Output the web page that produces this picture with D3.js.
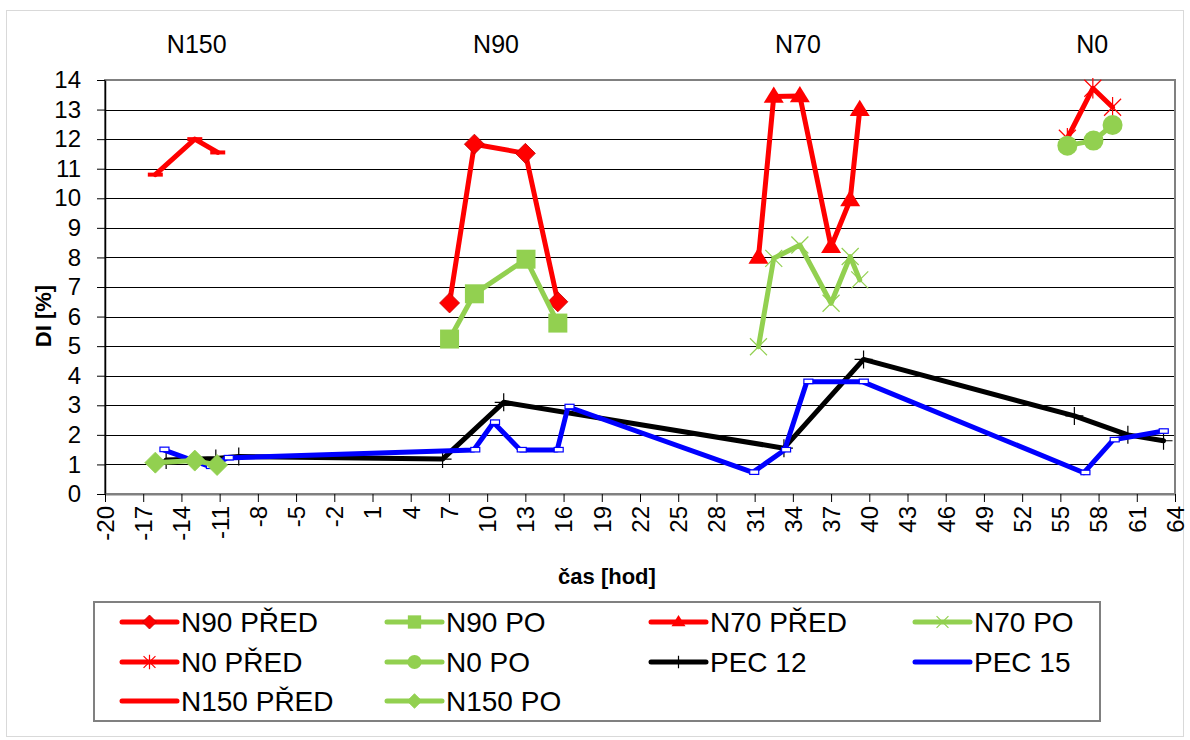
<!DOCTYPE html>
<html>
<head>
<meta charset="utf-8">
<script src="https://cdn.jsdelivr.net/npm/d3@7"></script>
<style>
  body { margin: 0; background: #fff; }
  svg { font-family: Arial, 'Liberation Sans', sans-serif; }
</style>
</head>
<body>
<div id="container"></div>
<script>
// Values (time in hours, DI in %).
const xTicks = d3.range(-20, 65, 3);
const yTicks = d3.range(0, 15, 1);
const groupLabels = ['N150', 'N90', 'N70', 'N0'];
const groupLabelX = [-12.8, 10.7, 34.4, 57.5];

const n90PredX = [7.05, 9.0, 13.0, 15.55];
const n90PredY = [6.46, 11.83, 11.52, 6.5];
const n90PoX = [7.05, 9.0, 13.05, 15.55];
const n90PoY = [5.24, 6.77, 7.94, 5.78];

const n70PredX = [31.3, 32.5, 34.55, 37.0, 38.5, 39.25];
const n70PredY = [8.0, 13.44, 13.46, 8.36, 9.94, 12.99];
const n70PoX = [31.3, 32.5, 34.55, 37.0, 38.5, 39.25];
const n70PoY = [4.98, 7.97, 8.42, 6.45, 8.03, 7.24];

const n0PredX = [55.55, 57.55, 59.1];
const n0PredY = [12.03, 13.72, 13.08];
const n0PoX = [55.55, 57.6, 59.1];
const n0PoY = [11.78, 11.95, 12.48];

const pec12X = [-15.2, -11.3, -9.5, 6.5, 11.3, 33.3, 39.55, 56.1, 60.3, 63.1];
const pec12Y = [1.15, 1.2, 1.27, 1.18, 3.1, 1.55, 4.55, 2.64, 2.0, 1.8];

const pec15X = [-15.45, -11.8, -10.4, 8.95, 10.5, 12.6, 15.5, 16.35, 30.85, 33.35, 35.1, 39.45, 56.85, 59.15, 63.0];
const pec15Y = [1.5, 0.93, 1.22, 1.49, 2.42, 1.49, 1.49, 2.95, 0.73, 1.49, 3.8, 3.8, 0.72, 1.83, 2.12];

const n150PredX = [-16.05, -12.95, -11.15];
const n150PredY = [10.8, 12.0, 11.55];
const n150PoX = [-16.05, -12.95, -11.2];
const n150PoY = [1.06, 1.13, 0.98];

const seriesNames = ['N90 PŘED', 'N90 PO', 'N70 PŘED', 'N70 PO', 'N0 PŘED', 'N0 PO',
  'PEC 12', 'PEC 15', 'N150 PŘED', 'N150 PO'];

// Colours and markers.
const RED = '#ff0000', GREEN = '#92d050', BLACK = '#000000', BLUE = '#0000ff';

const series = [
  { name: seriesNames[0], x: n90PredX, y: n90PredY, color: RED, marker: 'diamond' },
  { name: seriesNames[1], x: n90PoX, y: n90PoY, color: GREEN, marker: 'square' },
  { name: seriesNames[2], x: n70PredX, y: n70PredY, color: RED, marker: 'triangle' },
  { name: seriesNames[3], x: n70PoX, y: n70PoY, color: GREEN, marker: 'cross' },
  { name: seriesNames[4], x: n0PredX, y: n0PredY, color: RED, marker: 'star' },
  { name: seriesNames[5], x: n0PoX, y: n0PoY, color: GREEN, marker: 'circle' },
  { name: seriesNames[6], x: pec12X, y: pec12Y, color: BLACK, marker: 'plus' },
  { name: seriesNames[7], x: pec15X, y: pec15Y, color: BLUE, marker: 'rect' },
  { name: seriesNames[8], x: n150PredX, y: n150PredY, color: RED, marker: 'dash' },
  { name: seriesNames[9], x: n150PoX, y: n150PoY, color: GREEN, marker: 'diamond2' }
];

const width = 1190, height = 740;
const plot = { left: 105, right: 1175, top: 80, bottom: 494 };

const svg = d3.select('#container')
  .append('svg')
  .attr('width', width)
  .attr('height', height);

// Outer chart border.
svg.append('rect')
  .attr('x', 6.5).attr('y', 10.5)
  .attr('width', 1177).attr('height', 726)
  .attr('fill', '#fff')
  .attr('stroke', '#d9d9d9');

const x = d3.scaleLinear().domain([-20, 64]).range([plot.left, plot.right]);
const y = d3.scaleLinear().domain([0, 14]).range([plot.bottom, plot.top]);

// Gridlines.
svg.append('g')
  .selectAll('line')
  .data(yTicks.slice(1, -1))
  .enter()
  .append('line')
  .attr('x1', plot.left).attr('x2', plot.right)
  .attr('y1', d => Math.round(y(d)) + 0.5)
  .attr('y2', d => Math.round(y(d)) + 0.5)
  .attr('stroke', '#000')
  .attr('stroke-width', 1);

// Plot border.
svg.append('rect')
  .attr('x', plot.left).attr('y', plot.top)
  .attr('width', plot.right - plot.left)
  .attr('height', plot.bottom - plot.top)
  .attr('fill', 'none')
  .attr('stroke', '#808080')
  .attr('stroke-width', 2);

// Axes (plain hyphen for negatives, as in the original).
const fmt = d => String(d);

const yAxis = svg.append('g')
  .attr('transform', `translate(${plot.left},0)`)
  .call(d3.axisLeft(y).tickValues(yTicks).tickFormat(fmt).tickSize(8).tickPadding(16).tickSizeOuter(0));
yAxis.select('.domain').attr('stroke', '#000').attr('stroke-width', 1.5);
yAxis.selectAll('.tick line').attr('stroke', '#000');
yAxis.selectAll('text')
  .attr('font-size', 24)
  .attr('font-family', 'Arial, Liberation Sans, sans-serif')
  .attr('fill', '#000');

const xAxis = svg.append('g')
  .attr('transform', `translate(0,${plot.bottom})`)
  .call(d3.axisBottom(x).tickValues(xTicks).tickFormat(fmt).tickSize(8).tickSizeOuter(0));
xAxis.select('.domain').attr('stroke', '#808080').attr('stroke-width', 2);
xAxis.selectAll('.tick line').attr('stroke', '#000');
xAxis.selectAll('text')
  .attr('font-size', 24)
  .attr('font-family', 'Arial, Liberation Sans, sans-serif')
  .attr('fill', '#000')
  .attr('transform', 'rotate(-90)')
  .attr('x', -12)
  .attr('y', 0)
  .attr('dy', '0.35em')
  .style('text-anchor', 'end');

// Axis titles.
svg.append('text')
  .attr('transform', 'translate(51,316) rotate(-90)')
  .attr('text-anchor', 'middle')
  .attr('font-size', 22)
  .attr('font-weight', 'bold')
  .text('DI [%]');

svg.append('text')
  .attr('x', 607).attr('y', 584)
  .attr('text-anchor', 'middle')
  .attr('font-size', 22)
  .attr('font-weight', 'bold')
  .text('čas [hod]');

// Group labels above the plot.
svg.append('g')
  .selectAll('text')
  .data(groupLabels)
  .enter()
  .append('text')
  .attr('x', (d, i) => x(groupLabelX[i]))
  .attr('y', 53)
  .attr('text-anchor', 'middle')
  .attr('font-size', 25)
  .text(d => d);

// Marker shapes.
function drawMarker(g, type, color, legend) {
  const k = legend ? 0.7 : 1;
  if (type === 'diamond' || type === 'diamond2') {
    const s = (type === 'diamond' ? 10 : 10.5) * k;
    g.append('path')
      .attr('d', `M0,${-s}L${s},0L0,${s}L${-s},0Z`)
      .attr('fill', color)
      .attr('stroke', type === 'diamond' ? '#c00000' : color)
      .attr('stroke-width', 0.8);
  } else if (type === 'square') {
    const s = 9.5 * k;
    g.append('rect')
      .attr('x', -s).attr('y', -s)
      .attr('width', 2 * s).attr('height', 2 * s)
      .attr('fill', color);
  } else if (type === 'triangle') {
    const s = 10 * k;
    g.append('path')
      .attr('d', `M0,${-s}L${s},${s * 0.62}L${-s},${s * 0.62}Z`)
      .attr('fill', color);
  } else if (type === 'cross') {
    const s = 8.5 * k;
    g.append('path')
      .attr('d', `M${-s},${-s}L${s},${s}M${-s},${s}L${s},${-s}`)
      .attr('stroke', color)
      .attr('stroke-width', 1.2);
  } else if (type === 'star') {
    const s = 8.5 * k;
    g.append('path')
      .attr('d', `M${-s},${-s}L${s},${s}M${-s},${s}L${s},${-s}M0,${-s * 1.2}L0,${s * 1.2}`)
      .attr('stroke', color)
      .attr('stroke-width', 1.2);
  } else if (type === 'circle') {
    g.append('circle')
      .attr('r', 10 * k)
      .attr('fill', color);
  } else if (type === 'plus') {
    const s = 9 * k;
    g.append('path')
      .attr('d', `M${-s},0L${s},0M0,${-s}L0,${s}`)
      .attr('stroke', color)
      .attr('stroke-width', 1.2);
  } else if (type === 'rect') {
    if (legend) return;
    g.append('rect')
      .attr('x', -3).attr('y', -2.5)
      .attr('width', 9).attr('height', 4.5)
      .attr('fill', '#fff')
      .attr('stroke', color)
      .attr('stroke-width', 1.2);
  } else if (type === 'dash') {
    if (legend) return;
    g.append('rect')
      .attr('x', -7.5).attr('y', -2)
      .attr('width', 15).attr('height', 4)
      .attr('fill', color);
  }
}

// Lines and markers.
const line = d3.line()
  .x(d => x(d[0]))
  .y(d => y(d[1]));

series.forEach(s => {
  const pts = s.x.map((v, i) => [v, s.y[i]]);
  const g = svg.append('g').attr('class', 'series');
  g.append('path')
    .datum(pts)
    .attr('d', line)
    .attr('fill', 'none')
    .attr('stroke', s.color)
    .attr('stroke-width', 5)
    .attr('stroke-linejoin', 'round')
    .attr('stroke-linecap', 'round');
  g.selectAll('.pt')
    .data(pts)
    .enter()
    .append('g')
    .attr('class', 'pt')
    .attr('transform', d => `translate(${x(d[0])},${y(d[1])})`)
    .each(function () { drawMarker(d3.select(this), s.marker, s.color, false); });
});

// Legend.
const legendBox = { x: 94, y: 602, w: 1006, h: 119 };
svg.append('rect')
  .attr('x', legendBox.x).attr('y', legendBox.y)
  .attr('width', legendBox.w).attr('height', legendBox.h)
  .attr('fill', '#fff')
  .attr('stroke', '#808080')
  .attr('stroke-width', 2);

const legendColX = [122, 387, 651, 915];
const legendRowY = [622, 662, 701];

series.forEach((s, i) => {
  const lx = legendColX[i % 4], ly = legendRowY[Math.floor(i / 4)];
  const g = svg.append('g').attr('transform', `translate(${lx},${ly})`);
  g.append('line')
    .attr('x1', 0).attr('x2', 55)
    .attr('stroke', s.color)
    .attr('stroke-width', 5)
    .attr('stroke-linecap', 'round');
  const m = g.append('g').attr('transform', 'translate(27.5,0)');
  drawMarker(m, s.marker, s.color, true);
  g.append('text')
    .attr('x', 59)
    .attr('y', 0)
    .attr('dy', '0.36em')
    .attr('font-size', 28)
    .text(s.name);
});
</script>
</body>
</html>
